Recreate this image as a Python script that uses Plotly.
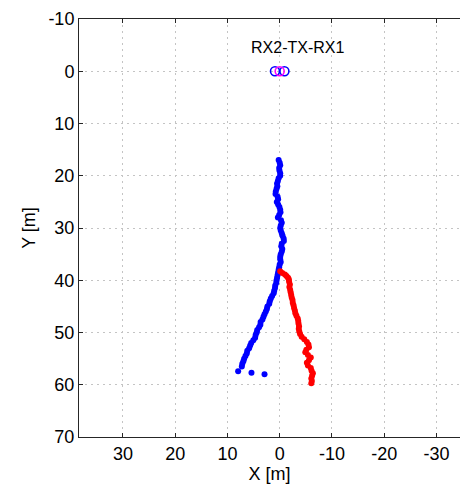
import plotly.graph_objects as go

# Blue track (X [m], Y [m])
blue_y = [17.0, 17.5, 18.0, 18.5, 19.0, 19.5, 20.0, 20.5, 21.0, 21.5, 22.0, 22.5, 23.0, 23.5,
          24.0, 24.5, 25.0, 25.5, 26.0, 26.5, 27.0, 27.5, 28.0, 28.5, 29.0, 29.5, 30.0, 30.5,
          31.0, 31.5, 32.0, 32.5, 33.0, 33.5, 34.0, 34.5, 35.0, 35.5, 36.0, 36.5, 37.0, 37.5,
          38.0, 38.5, 39.0, 39.5, 40.0, 40.5, 41.0, 41.5, 42.0, 42.5, 43.0, 43.5, 44.0, 44.5,
          45.0, 45.5, 46.0, 46.5, 47.0, 47.5, 48.0, 48.5, 49.0, 49.5, 50.0, 50.5, 51.0, 51.5,
          52.0, 52.5, 53.0, 53.5, 54.0, 54.5, 55.0, 55.5, 56.0, 56.5, 57.4, 57.7, 58.0]
blue_x = [0.2, 0.0, -0.1, 0.1, 0.05, -0.1, -0.1, 0.2, 0.35, 0.5, 0.45, 0.6, 0.75, 0.8,
          0.4, 0.3, 0.55, 0.3, 0.05, -0.1, -0.15, 0.1, 0.35, -0.25, -0.4, -0.2, -0.1, -0.2,
          -0.4, -0.55, -0.75, -0.8, -0.4, -0.3, -0.5, -0.4, -0.2, -0.1, -0.1, -0.2, 0.0, 0.1,
          0.2, 0.3, 0.4, 0.5, 0.6, 0.65, 0.85, 0.9, 1.05, 1.15, 1.45, 1.7, 1.9, 2.0,
          2.35, 2.45, 2.65, 2.9, 3.1, 3.3, 3.65, 3.7, 3.95, 4.3, 4.4, 4.6, 4.7, 5.05,
          5.45, 5.65, 5.85, 6.2, 6.3, 6.55, 6.8, 6.95, 7.15, 7.25, 7.95, 5.4, 2.9]

# Red track
red_y = [38.3, 38.6, 38.9, 39.2, 39.5, 39.8, 40.3, 40.8, 41.3, 41.8, 42.3, 42.8, 43.3, 43.8,
         44.3, 44.8, 45.3, 45.8, 46.3, 46.8, 47.3, 47.8, 48.3, 48.8, 49.3, 49.8, 50.3, 50.8,
         51.3, 51.8, 52.3, 52.8, 53.3, 53.8, 54.3, 54.8, 55.3, 55.8, 56.3, 56.8, 57.3, 57.8,
         58.3, 58.8, 59.3, 59.7]
red_x = [-0.1, -0.5, -1.0, -1.3, -1.6, -1.75, -1.8, -1.95, -1.85, -2.0, -2.1, -2.2, -2.3, -2.45,
         -2.5, -2.65, -2.75, -2.9, -3.0, -3.2, -3.45, -3.55, -3.6, -3.7, -3.65, -3.75, -3.9, -4.2,
         -4.7, -5.2, -5.5, -5.6, -5.1, -4.9, -5.4, -5.95, -5.6, -5.2, -5.4, -5.95, -6.1, -6.35,
         -6.2, -6.05, -6.15, -6.05]

# Antennas: RX2, TX, RX1
rx_x = [0.9, -0.9]
rx_y = [0, 0]
tx_x = [0]
tx_y = [0]
antenna_label = "RX2-TX-RX1"

x_ticks = [30, 20, 10, 0, -10, -20, -30]
y_ticks = [-10, 0, 10, 20, 30, 40, 50, 60, 70]

FONT = "Liberation Sans, Arial, Helvetica, sans-serif"

fig = go.Figure()
fig.add_trace(go.Scatter(x=blue_x, y=blue_y, mode="markers",
                         marker=dict(color="#0000ff", size=6, line=dict(width=0))))
fig.add_trace(go.Scatter(x=red_x, y=red_y, mode="markers",
                         marker=dict(color="#ff0000", size=6, line=dict(width=0))))
fig.add_trace(go.Scatter(x=rx_x, y=rx_y, mode="markers",
                         marker=dict(symbol="circle-open", color="#0000ff", size=9,
                                     line=dict(width=1.6, color="#0000ff"))))
fig.add_trace(go.Scatter(x=tx_x, y=tx_y, mode="markers",
                         marker=dict(symbol="circle-open", color="#ff00ff", size=9,
                                     line=dict(width=1.6, color="#ff00ff"))))

fig.add_annotation(x=-3.4, y=-4.6, text=antenna_label, showarrow=False,
                   font=dict(size=16, color="#000000", family=FONT),
                   xanchor="center", yanchor="middle")

fig.update_layout(
    width=460, height=487,
    margin=dict(l=79, r=0, t=19, b=50),
    paper_bgcolor="white", plot_bgcolor="white",
    showlegend=False,
    font=dict(family=FONT, size=18, color="#000000"),
)
fig.update_xaxes(
    range=[38.4, -34.5], tickvals=x_ticks, ticktext=[str(v) for v in x_ticks],
    showline=True, linecolor="#262626", linewidth=1, mirror="ticks",
    ticks="inside", ticklen=4, tickcolor="#262626",
    showgrid=True, gridcolor="#c4c4c4", griddash="2px,4px", gridwidth=1,
    zeroline=False,
    title=dict(text="X [m]", standoff=2, font=dict(size=18)),
)
fig.update_yaxes(
    range=[70, -10], tickvals=y_ticks, ticktext=[str(v) for v in y_ticks],
    showline=True, linecolor="#262626", linewidth=1, mirror=False,
    ticks="inside", ticklen=4, tickcolor="#262626",
    showgrid=True, gridcolor="#c4c4c4", griddash="2px,4px", gridwidth=1,
    zeroline=False,
    title=dict(text="Y [m]", standoff=8, font=dict(size=18)),
)

fig.write_html("out.html")
